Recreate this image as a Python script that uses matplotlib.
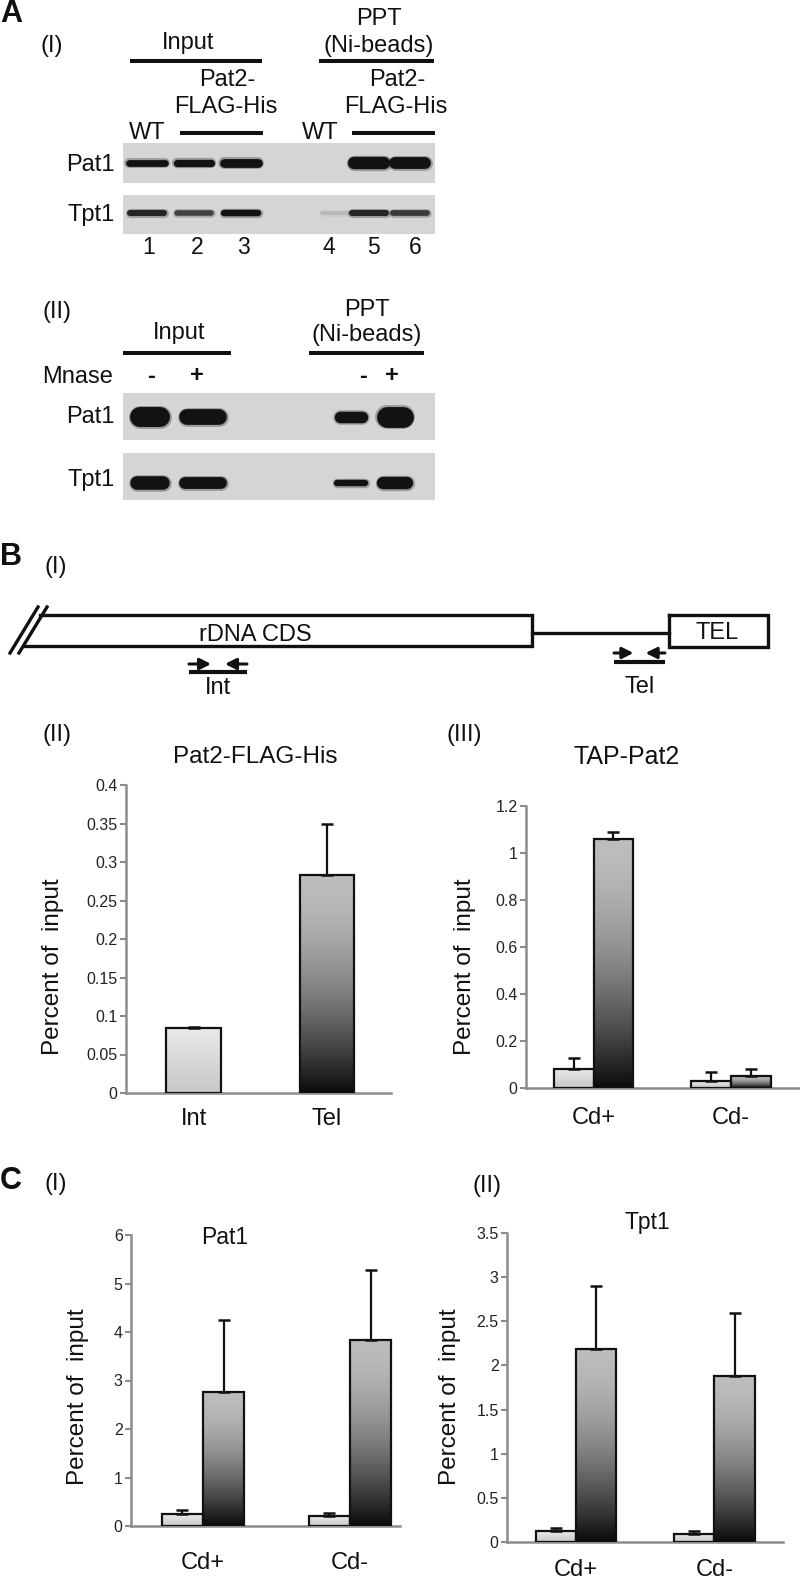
import matplotlib.pyplot as plt
import numpy as np

plt.rcParams['font.family'] = ['Liberation Sans', 'DejaVu Sans']

W, H = 800, 1582

# --- data -------------------------------------------------------------
# A(I) western blot, band strength per lane (0..1)
a1_lanes = ['1', '2', '3', '4', '5', '6']
a1_pat1 = [0.22, 0.25, 0.34, 0.0, 0.55, 0.52]
a1_tpt1 = [0.18, 0.15, 0.20, 0.03, 0.18, 0.16]
# A(II) western blot, Mnase -/+
a2_mnase = ['-', '+', '-', '+']
a2_pat1 = [1.0, 0.75, 0.50, 1.05]
a2_tpt1 = [0.62, 0.52, 0.20, 0.55]

# B(I) schematic labels
regions = ['rDNA CDS', 'TEL']
primers = ['Int', 'Tel']

# B(II) Pat2-FLAG-His, percent of input
b2_sites = ['Int', 'Tel']
b2_val = [0.084, 0.283]
b2_err = [0.002, 0.067]

# B(III) TAP-Pat2
cd_groups = ['Cd+', 'Cd-']
b3_light = [0.081, 0.031]
b3_light_err = [0.047, 0.038]
b3_dark = [1.058, 0.051]
b3_dark_err = [0.031, 0.030]

# C(I) Pat1
c1_light = [0.24, 0.20]
c1_light_err = [0.08, 0.06]
c1_dark = [2.76, 3.84]
c1_dark_err = [1.49, 1.43]

# C(II) Tpt1
c2_light = [0.12, 0.095]
c2_light_err = [0.04, 0.035]
c2_dark = [2.19, 1.88]
c2_dark_err = [0.71, 0.71]

INK = '#111111'
AXC = '#8c8c8c'

fig = plt.figure(figsize=(W / 100, H / 100), dpi=100)

# overlay axes in pixel coordinates for blots, schematic and text
ov = fig.add_axes([0, 0, 1, 1])
ov.set_xlim(0, W)
ov.set_ylim(H, 0)
ov.axis('off')


def txt(x, y, s, size=17, ha='center', **kw):
    ov.text(x, y, s, fontsize=size, ha=ha, va='center', color=INK, **kw)


def hline(x0, x1, y, lw=2.9):
    ov.plot([x0, x1], [y, y], color=INK, lw=lw, solid_capstyle='butt')


def band(cx, cy, width, s):
    if s <= 0:
        return
    th = 3 + 17 * s
    dark = min(1.0, s * 5)
    g = 0.83 - 0.76 * dark
    # soft halo then core
    ov.plot([cx - width / 2 + th / 2, cx + width / 2 - th / 2], [cy, cy],
            lw=(th + 3) * 0.72, color=str(g), alpha=0.3, solid_capstyle='round')
    ov.plot([cx - width / 2 + th / 2, cx + width / 2 - th / 2], [cy, cy],
            lw=th * 0.72, color=str(g), solid_capstyle='round')


def blot(x0, x1, y0, y1):
    ov.add_patch(plt.Rectangle((x0, y0), x1 - x0, y1 - y0, color='#d5d5d5', lw=0))


# ---------------- panel A(I) ----------------
txt(0, 14, 'A', size=22, ha='left', fontweight='bold')
txt(40, 46, '(I)', ha='left')
txt(188, 43, 'Input')
hline(130, 262, 61)
txt(379, 19, 'PPT')
txt(379, 46, '(Ni-beads)')
hline(319, 434, 61)
txt(227, 80, 'Pat2-')
txt(226, 107, 'FLAG-His')
txt(397, 80, 'Pat2-')
txt(396, 107, 'FLAG-His')
txt(147, 133, 'WT')
hline(180, 263, 133)
txt(320, 133, 'WT')
hline(352, 435, 133)

blot(123, 435, 143, 183)
blot(123, 435, 195, 234)
txt(115, 165, 'Pat1', ha='right')
txt(115, 215, 'Tpt1', ha='right')
a1_x = [147, 194, 241, 340, 369, 410]
for i, lab in enumerate(a1_lanes):
    band(a1_x[i], 163, 42, a1_pat1[i])
    band(a1_x[i], 213, 40, a1_tpt1[i])
a1_num_x = [149, 197, 243, 329, 373, 415]
for i, lab in enumerate(a1_lanes):
    txt(a1_num_x[i], 248, lab, size=16.5)

# ---------------- panel A(II) ----------------
txt(42, 312, '(II)', ha='left')
txt(179, 333, 'Input')
hline(123, 231, 353)
txt(367, 310, 'PPT')
txt(367, 335, '(Ni-beads)')
hline(309, 424, 353)
txt(42, 377, 'Mnase', ha='left')
a2_sign_x = [151, 197, 363, 392]
for i, s in enumerate(a2_mnase):
    txt(a2_sign_x[i], 376, s, fontweight='bold')

blot(123, 435, 393, 440)
blot(123, 435, 453, 500)
txt(115, 417, 'Pat1', ha='right')
txt(115, 480, 'Tpt1', ha='right')
a2_x = [150, 203, 351, 395]
a2_w = [40, 48, 34, 36]
for i in range(len(a2_mnase)):
    band(a2_x[i], 417, a2_w[i], a2_pat1[i])
    band(a2_x[i], 483, a2_w[i], a2_tpt1[i])

# ---------------- panel B(I) schematic ----------------
txt(0, 557, 'B', size=22, ha='left', fontweight='bold')
txt(45, 567, '(I)', ha='left')
lw_s = 2.4
ov.plot([10, 38], [653, 607], color=INK, lw=lw_s)
ov.plot([19, 47], [653, 607], color=INK, lw=lw_s)
ov.plot([40, 532, 532, 24], [615, 615, 646, 646], color=INK, lw=lw_s,
        solid_joinstyle='miter')
ov.plot([532, 669], [633, 633], color=INK, lw=lw_s)
ov.plot([669, 768, 768, 669, 669], [615, 615, 647, 647, 615], color=INK, lw=lw_s,
        solid_joinstyle='miter')
txt(255, 635, regions[0])
txt(717, 633, regions[1])


def primer(x0, x1, y_arrow, y_line, label, y_label):
    aw = (x1 - x0) * 0.38
    ap = dict(arrowstyle='-|>,head_length=0.55,head_width=0.28', lw=2.2,
              color=INK, shrinkA=0, shrinkB=0, mutation_scale=12)
    ov.annotate('', xy=(x0 + aw, y_arrow), xytext=(x0, y_arrow), arrowprops=ap)
    ov.annotate('', xy=(x1 - aw, y_arrow), xytext=(x1, y_arrow), arrowprops=ap)
    hline(x0, x1, y_line, lw=3.0)
    txt((x0 + x1) / 2, y_label, label)


primer(189, 247, 664, 672, primers[0], 688)
primer(614, 665, 653, 662, primers[1], 687)


# ---------------- bar charts ----------------
def add_ax(x0, y0, x1, y1):
    a = fig.add_axes([x0 / W, 1 - y1 / H, (x1 - x0) / W, (y1 - y0) / H])
    a.patch.set_visible(False)
    return a


def shade(ax, bars, top, bottom, power):
    t = np.linspace(0, 1, 256)[:, None]
    g = top + (bottom - top) * t ** power
    img = np.dstack([g, g, g])
    for p in bars:
        x, y, w, h = p.get_x(), p.get_y(), p.get_width(), p.get_height()
        ax.imshow(img, extent=[x, x + w, y, y + h], aspect='auto', zorder=2,
                  interpolation='bilinear')


def style(ax, xlim, ylim, ticks, labels, pad):
    ax.set_xlim(*xlim)
    ax.set_ylim(*ylim)
    for s in ('top', 'right'):
        ax.spines[s].set_visible(False)
    for s in ('left', 'bottom'):
        ax.spines[s].set_color(AXC)
        ax.spines[s].set_linewidth(1.8)
    ax.set_yticks(ticks)
    ax.set_yticklabels(['{:g}'.format(v) for v in ticks])
    ax.tick_params(axis='y', direction='out', length=4, width=1.5, color=AXC,
                   labelsize=11.5, labelcolor='#222222', pad=2)
    ax.set_xticks(range(len(labels)))
    ax.set_xticklabels(labels)
    ax.tick_params(axis='x', length=0, labelsize=17, labelcolor=INK, pad=pad)


def grouped(ax, light, light_err, dark, dark_err, w):
    x = np.arange(len(light))
    kw = dict(width=w, facecolor='none', edgecolor=INK, linewidth=1.6, zorder=3)
    b1 = ax.bar(x - w / 2, light, **kw)
    b2 = ax.bar(x + w / 2, dark, **kw)
    shade(ax, b1, 0.92, 0.78, 1.0)
    shade(ax, b2, 0.74, 0.04, 1.7)
    ek = dict(fmt='none', ecolor=INK, elinewidth=1.6, capsize=4.5, capthick=1.8, zorder=4)
    ax.errorbar(x - w / 2, light, yerr=[np.zeros(len(light)), light_err], **ek)
    ax.errorbar(x + w / 2, dark, yerr=[np.zeros(len(dark)), dark_err], **ek)


# B(II)
txt(42, 735, '(II)', ha='left')
txt(255, 757, 'Pat2-FLAG-His', size=17.5)
ax = add_ax(126, 785, 391, 1093)
x = np.arange(len(b2_val))
bb = ax.bar(x, b2_val, width=0.41, facecolor='none', edgecolor=INK, linewidth=1.6, zorder=3)
shade(ax, bb[:1], 0.92, 0.78, 1.0)
shade(ax, bb[1:], 0.74, 0.04, 1.7)
ax.errorbar(x, b2_val, yerr=[np.zeros(len(b2_val)), b2_err], fmt='none', ecolor=INK,
            elinewidth=1.6, capsize=4.5, capthick=1.8, zorder=4)
style(ax, (-0.506, 1.479), (0, 0.4), np.arange(0, 0.41, 0.05), b2_sites, 11)
txt(53, 967, 'Percent of  input', size=17.5, rotation=90)

# B(III)
txt(447, 735, '(III)', ha='left')
txt(627, 757, 'TAP-Pat2', size=18)
ax = add_ax(526, 806, 800, 1088)
grouped(ax, b3_light, b3_light_err, b3_dark, b3_dark_err, 0.29)
style(ax, (-0.491, 1.502), (0, 1.2), np.arange(0, 1.21, 0.2), cd_groups, 14)
txt(465, 967, 'Percent of  input', size=17.5, rotation=90)

# C(I)
txt(0, 1181, 'C', size=22, ha='left', fontweight='bold')
txt(45, 1184, '(I)', ha='left')
txt(225, 1237, 'Pat1', size=16.5)
ax = add_ax(131, 1235, 400, 1526)
grouped(ax, c1_light, c1_light_err, c1_dark, c1_dark_err, 0.28)
style(ax, (-0.49, 1.34), (0, 6), np.arange(0, 7, 1), cd_groups, 19)
txt(78, 1397, 'Percent of  input', size=17.5, rotation=90)

# C(II)
txt(473, 1186, '(II)', ha='left')
txt(647, 1223, 'Tpt1', size=16.5)
ax = add_ax(507, 1233, 783, 1542)
grouped(ax, c2_light, c2_light_err, c2_dark, c2_dark_err, 0.29)
style(ax, (-0.498, 1.495), (0, 3.5), np.arange(0, 3.51, 0.5), cd_groups, 12)
txt(450, 1397, 'Percent of  input', size=17.5, rotation=90)

fig.savefig('out.png', dpi=100)
